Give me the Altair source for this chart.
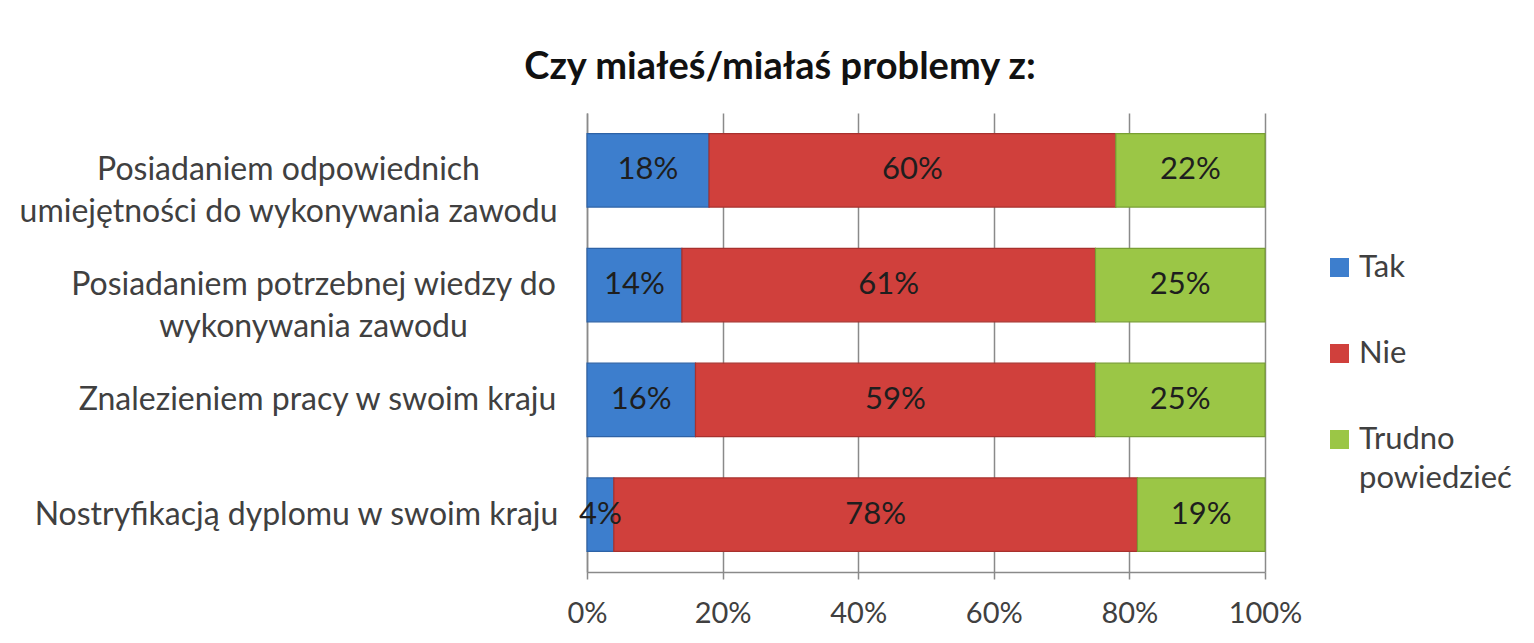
import altair as alt
import pandas as pd

categories = [
    "Posiadaniem odpowiednich\numiejętności do wykonywania zawodu",
    "Posiadaniem potrzebnej wiedzy do\nwykonywania zawodu",
    "Znalezieniem pracy w swoim kraju",
    "Nostryfikacją dyplomu w swoim kraju",
]
series = ["Tak", "Nie", "Trudno powiedzieć"]
tak = [18, 14, 16, 4]
nie = [60, 61, 59, 78]
trudno = [22, 25, 25, 19]
colors = ["#3d7ecd", "#d0403c", "#9bc646"]
strokes = ["#2d62a6", "#a8302d", "#789f33"]

rows = []
for i, c in enumerate(categories):
    for j, (s, vals) in enumerate(zip(series, [tak, nie, trudno])):
        rows.append({"cat": c, "series": s, "order": j, "value": vals[i]})
df = pd.DataFrame(rows)

FONT = "Lato"

label_padding = {
    "condition": [
        {"test": "indexof(datum.value, 'odpowiednich') >= 0", "value": 299},
        {"test": "indexof(datum.value, 'wiedzy') >= 0", "value": 274},
        {"test": "indexof(datum.value, 'pracy') >= 0", "value": 270},
    ],
    "value": 291,
}

y_enc = alt.Y(
    "cat:N",
    sort=categories,
    title=None,
    scale=alt.Scale(paddingInner=0.36, paddingOuter=0.18),
    axis=alt.Axis(
        labelExpr="split(datum.label, '\\n')",
        labelAlign="center",
        labelBaseline="middle",
        labelPadding=label_padding,
        labelFontSize=32,
        labelFont=FONT,
        labelColor="#404040",
        labelLineHeight=42,
        labelLimit=700,
        ticks=False,
        domainColor="#8a8a8a",
        domainWidth=1.5,
    ),
)

base = alt.Chart(df).transform_stack(
    stack="value",
    as_=["v0", "v1"],
    groupby=["cat"],
    sort=[alt.SortField("order", "ascending")],
    offset="normalize",
)

bars = base.mark_bar(strokeWidth=1.2).encode(
    x=alt.X(
        "v0:Q",
        title=None,
        scale=alt.Scale(domain=[0, 1], nice=False),
        axis=alt.Axis(
            values=[0, 0.2, 0.4, 0.6, 0.8, 1.0],
            format=".0%",
            labelFontSize=29,
            labelFont=FONT,
            labelColor="#404040",
            labelPadding=20,
            tickSize=7,
            tickColor="#8a8a8a",
            tickWidth=1.5,
            domainColor="#8a8a8a",
            domainWidth=1.5,
            gridColor="#8a8a8a",
            gridWidth=1.5,
            labelFlush=False,
        ),
    ),
    x2="v1:Q",
    y=y_enc,
    color=alt.Color(
        "series:N",
        sort=series,
        scale=alt.Scale(domain=series, range=colors),
        legend=alt.Legend(
            title=None,
            orient="none",
            legendX=737,
            legendY=139,
            padding=0,
            symbolType="square",
            symbolSize=361,
            symbolStrokeWidth=0,
            labelFont=FONT,
            labelFontSize=31,
            labelColor="#404040",
            labelExpr="datum.label == 'Trudno powiedzieć' ? ['Trudno', 'powiedzieć'] : datum.label",
            labelLimit=300,
            rowPadding=54,
            labelOffset=4,
        ),
    ),
    stroke=alt.Stroke("series:N", sort=series,
                      scale=alt.Scale(domain=series, range=strokes), legend=None),
)

labels = base.transform_calculate(
    mid="(datum.v0 + datum.v1) / 2",
    lab="datum.value + '%'",
).mark_text(font=FONT, fontSize=31, color="#1e1e1e", baseline="middle").encode(
    x="mid:Q",
    y=alt.Y("cat:N", sort=categories),
    text="lab:N",
)

chart = (
    alt.layer(bars, labels)
    .properties(
        width=678,
        height=459,
        autosize=alt.AutoSizeParams(type="none"),
        padding={"left": 579, "top": 105, "right": 261, "bottom": 63},
        background="white",
        title=alt.TitleParams(
            "Czy miałeś/miałaś problemy z:",
            font=FONT,
            fontSize=38,
            fontWeight="bold",
            color="#111111",
            anchor="middle",
            dx=-146,
            offset=26,
        ),
    )
    .configure(style={"guide-label": {"lineHeight": 39}})
    .configure_view(stroke=None)
)

chart.save("out.html", embed_options={"renderer": "svg", "actions": False})
